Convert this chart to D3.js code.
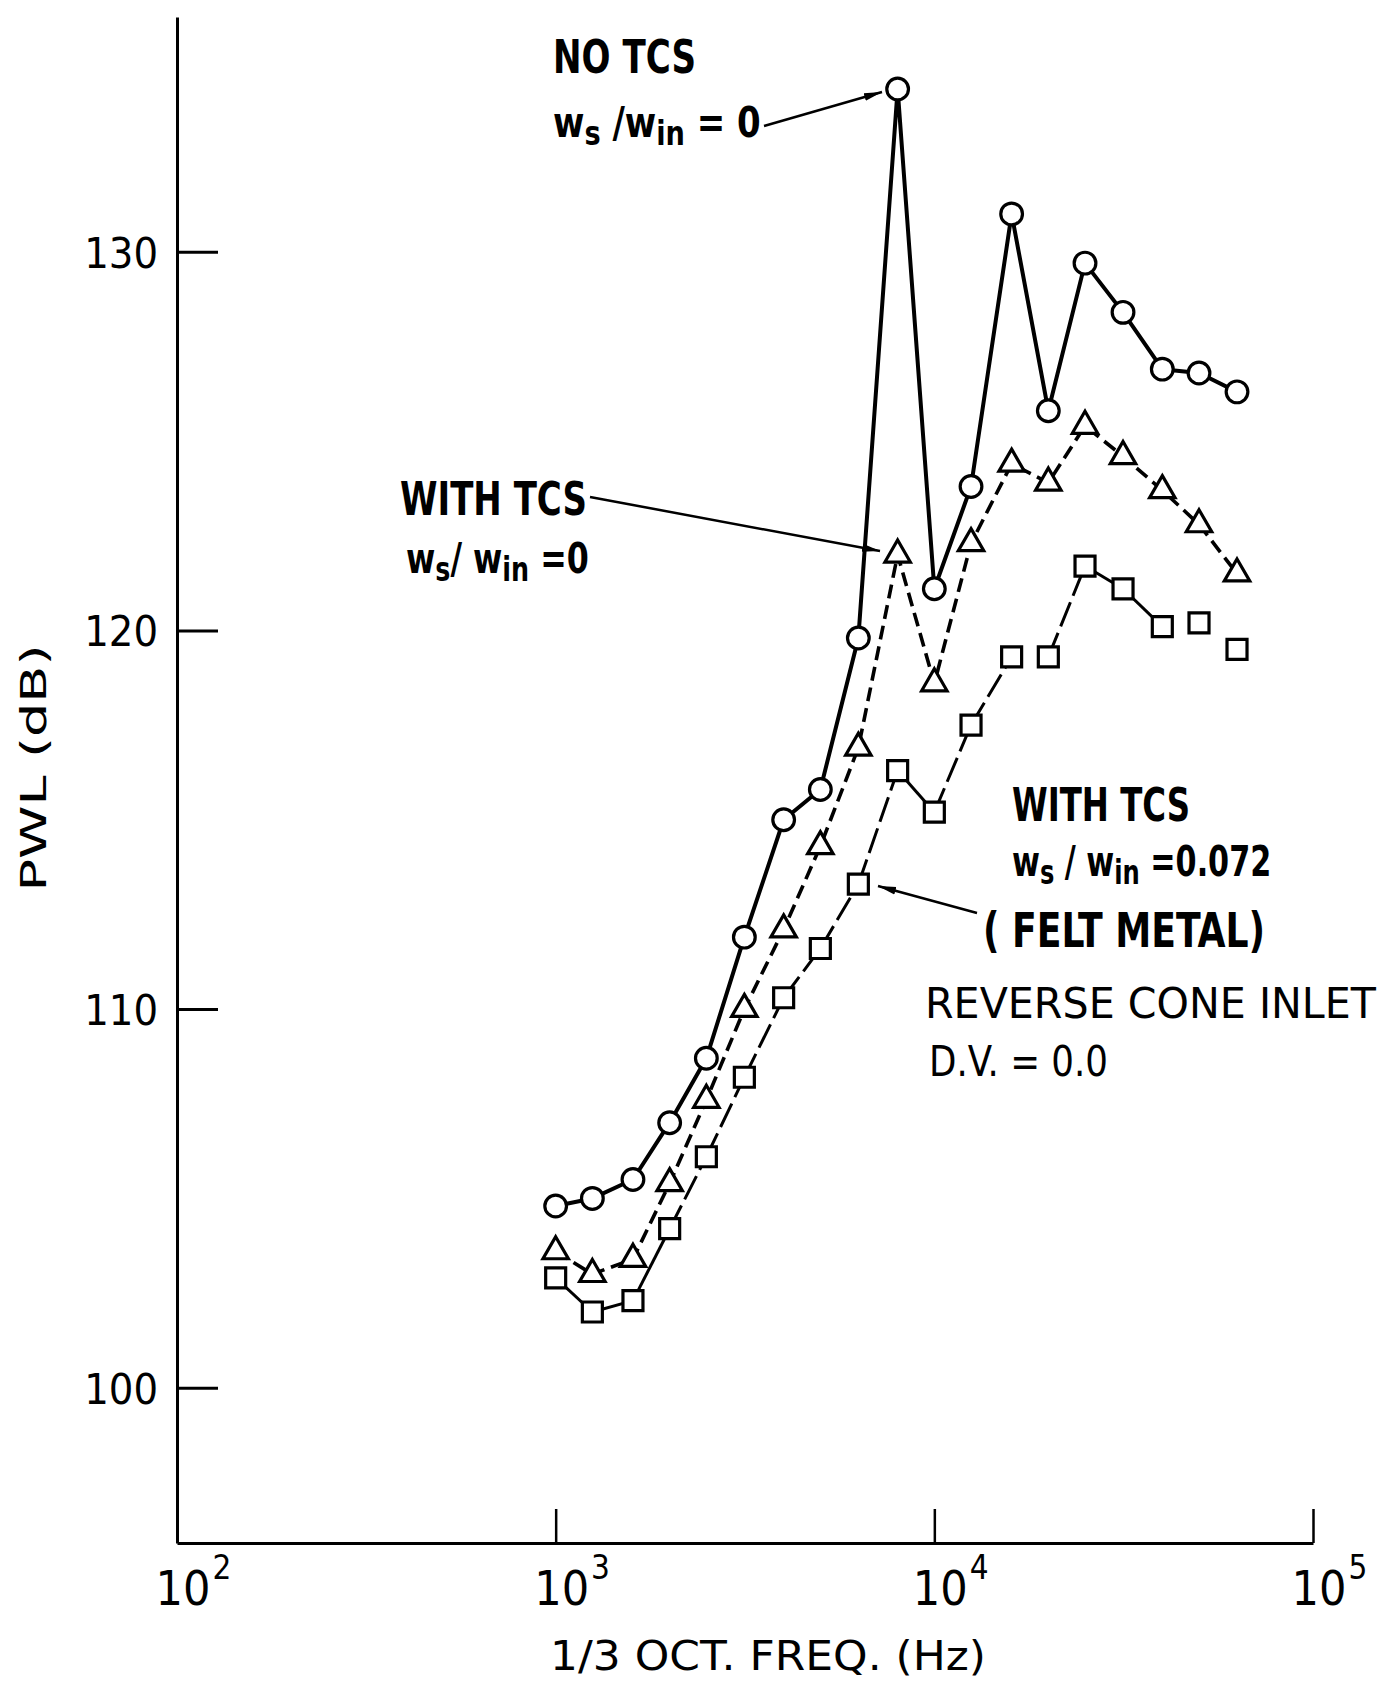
<!DOCTYPE html>
<html>
<head>
<meta charset="utf-8">
<title>PWL vs 1/3 oct. freq.</title>
<script src="https://cdn.jsdelivr.net/npm/d3@7"></script>
<style>
  body { margin: 0; background: #fff; }
  svg text { fill: #000; }
  .lab { font-family: "Liberation Sans Narrow", "DejaVu Sans Condensed", "DejaVu Sans", sans-serif; font-stretch: condensed; }
  .thin { font-family: "DejaVu Sans", "Liberation Sans", sans-serif; }
</style>
</head>
<body>
<script>
// 1/3 octave band centre frequencies (Hz)
var freqs = [1000, 1250, 1600, 2000, 2500, 3150, 4000, 5000, 6300, 8000,
             10000, 12500, 16000, 20000, 25000, 31500, 40000, 50000, 63000];

// PWL (dB)
var noTcs     = [104.8, 105.0, 105.5, 107.0, 108.7, 111.9, 115.0, 115.8, 119.8, 134.3,
                 121.1, 123.8, 131.0, 125.8, 129.7, 128.4, 126.9, 126.8, 126.3];
var withTcs   = [103.6, 103.0, 103.4, 105.4, 107.6, 110.0, 112.1, 114.3, 116.9, 122.0,
                 118.6, 122.3, 124.4, 123.9, 125.4, 124.6, 123.7, 122.8, 121.5];
var feltMetal = [102.9, 102.0, 102.3, 104.2, 106.1, 108.2, 110.3, 111.6, 113.3, 116.3,
                 115.2, 117.5, 119.3, 119.3, 121.7, 121.1, 120.1, 120.2, 119.5];

// how each segment of the felt metal curve is drawn (i -> i+1)
var feltSegs = ["solid", "solid", "solid", "dash", "dash", "dash", "dash", "dash", "dash",
                "solid", "dash", "dash", "none", "dash", "solid", "solid", "none", "none"];

var yTicks = [100, 110, 120, 130];
var xTicks = [1e2, 1e3, 1e4, 1e5];
var xTickExp = ["2", "3", "4", "5"];

var W = 1385, H = 1684;

var svg = d3.select("body").append("svg")
    .attr("width", W)
    .attr("height", H);

var defs = svg.append("defs");
defs.append("marker")
    .attr("id", "arrow")
    .attr("markerUnits", "userSpaceOnUse")
    .attr("markerWidth", 20).attr("markerHeight", 10)
    .attr("refX", 18).attr("refY", 5)
    .attr("orient", "auto")
  .append("path")
    .attr("d", "M0,1 L18,5 L0,9 Z")
    .attr("fill", "#000");

var x = d3.scaleLog().domain([1e2, 1e5]).range([177, 1313]);
var y = d3.scaleLinear().domain([95.9, 136.2]).range([1543, 17]);

// y axis, ticks pointing inwards
var yAxis = d3.axisLeft(y)
    .tickValues(yTicks)
    .tickSizeInner(-41)
    .tickSizeOuter(0)
    .tickPadding(19);

var gy = svg.append("g")
    .attr("transform", "translate(177,0)")
    .call(yAxis);
gy.select(".domain").attr("stroke-width", 3);
gy.selectAll(".tick line").attr("stroke-width", 3);
gy.selectAll(".tick text")
    .attr("class", "lab")
    .attr("font-size", 43)
    .attr("dy", "0.36em");

// x axis, log decades
var xAxis = d3.axisBottom(x)
    .tickValues(xTicks)
    .tickSizeInner(-34)
    .tickSizeOuter(0)
    .tickFormat(function () { return "10"; });

var gx = svg.append("g")
    .attr("transform", "translate(0,1543)")
    .call(xAxis);
gx.select(".domain").attr("stroke-width", 3);
gx.selectAll(".tick line").attr("stroke-width", 2.5);
gx.selectAll(".tick").filter(function (d) { return d === 1e2; }).select("line").remove();
gx.selectAll(".tick text")
    .attr("class", "lab")
    .attr("font-size", 48)
    .attr("text-anchor", "start")
    .attr("x", -22)
    .attr("y", 62)
    .attr("dy", 0)
  .append("tspan")
    .attr("font-size", 33)
    .attr("dx", 2)
    .attr("dy", -26)
    .text(function (d) { return xTickExp[xTicks.indexOf(d)]; });

svg.selectAll(".tick text").attr("fill", "#000");

// axis titles
svg.append("text")
    .attr("class", "thin")
    .attr("font-size", 36)
    .attr("text-anchor", "middle")
    .attr("transform", "translate(46,768) rotate(-90)")
    .attr("textLength", 247)
    .attr("lengthAdjust", "spacingAndGlyphs")
    .text("PWL (dB)");

svg.append("text")
    .attr("class", "thin")
    .attr("font-size", 41)
    .attr("x", 550)
    .attr("y", 1670)
    .attr("textLength", 436)
    .attr("lengthAdjust", "spacingAndGlyphs")
    .text("1/3 OCT. FREQ. (Hz)");

// series
function pts(vals) {
    return freqs.map(function (f, i) { return { f: f, v: vals[i] }; });
}

var line = d3.line()
    .x(function (d) { return x(d.f); })
    .y(function (d) { return y(d.v); });

var lines = svg.append("g").attr("fill", "none").attr("stroke", "#000");

lines.append("path")
    .datum(pts(noTcs))
    .attr("stroke-width", 4)
    .attr("stroke-linejoin", "round")
    .attr("d", line);

lines.append("path")
    .datum(pts(withTcs))
    .attr("stroke-width", 3.6)
    .attr("stroke-dasharray", "14,7")
    .attr("d", line);

var fm = pts(feltMetal);
lines.selectAll("path.felt")
    .data(feltSegs.map(function (s, i) { return { s: s, seg: [fm[i], fm[i + 1]] }; })
        .filter(function (d) { return d.s !== "none"; }))
    .enter().append("path")
    .attr("class", "felt")
    .attr("stroke-width", 3)
    .attr("stroke-dasharray", function (d) { return d.s === "dash" ? "26,7" : null; })
    .attr("d", function (d) { return line(d.seg); });

// markers
function drawMarkers(vals, type, size) {
    svg.append("g").selectAll("path")
        .data(pts(vals))
        .enter().append("path")
        .attr("transform", function (d) { return "translate(" + x(d.f) + "," + y(d.v) + ")"; })
        .attr("d", d3.symbol().type(type).size(size))
        .attr("fill", "#fff")
        .attr("stroke", "#000")
        .attr("stroke-width", 3.2);
}
drawMarkers(noTcs, d3.symbolCircle, 370);
drawMarkers(withTcs, d3.symbolTriangle, 280);
drawMarkers(feltMetal, d3.symbolSquare, 400);

// annotations
function label(xp, yp, size, len, parts, cls) {
    var t = svg.append("text")
        .attr("class", cls || "lab")
        .attr("font-size", size)
        .attr("font-weight", cls ? null : "bold")
        .attr("x", xp)
        .attr("y", yp);
    if (len) t.attr("textLength", len).attr("lengthAdjust", "spacingAndGlyphs");
    parts.forEach(function (p) {
        var ts = t.append("tspan").text(p[0]);
        if (p[1] === "sub") ts.attr("font-size", size * 0.8).attr("dy", 8);
        if (p[1] === "up") ts.attr("dy", -8);
    });
    return t;
}

// ratio labels are squeezed sideways like the stencil lettering
function ratio(xp, yp, sx, parts) {
    var size = 42;
    var t = svg.append("text")
        .attr("class", "lab")
        .attr("font-size", size)
        .attr("font-weight", "bold")
        .attr("transform", "translate(" + xp + "," + yp + ") scale(" + sx + ",1)");
    parts.forEach(function (p) {
        var ts = t.append("tspan").text(p[0]);
        if (p[1] === "sub") ts.attr("font-size", size * 0.8).attr("dy", 8);
        if (p[1] === "up") ts.attr("dy", -8);
    });
}

function arrow(x1, y1, x2, y2) {
    svg.append("line")
        .attr("x1", x1).attr("y1", y1)
        .attr("x2", x2).attr("y2", y2)
        .attr("stroke", "#000")
        .attr("stroke-width", 2.5)
        .attr("marker-end", "url(#arrow)");
}

label(553, 73, 47, 143, [["NO TCS"]]);
ratio(553, 137, 0.9, [["w"], ["s", "sub"], [" /w", "up"], ["in", "sub"], [" = 0", "up"]]);
arrow(764, 126, 882, 92);

label(400, 515, 47, 187, [["WITH TCS"]]);
ratio(406, 573, 0.84, [["w"], ["s", "sub"], ["/ w", "up"], ["in", "sub"], [" =0", "up"]]);
arrow(590, 497, 880, 551);

label(1012, 821, 47, 178, [["WITH TCS"]]);
ratio(1012, 876, 0.8, [["w"], ["s", "sub"], [" / w", "up"], ["in", "sub"], [" =0.072", "up"]]);
label(983, 947, 48, 282, [["( FELT METAL)"]]);
arrow(977, 913, 878, 886);

label(925, 1018, 42, 451, [["REVERSE CONE INLET"]], "thin");
label(929, 1076, 42, 179, [["D.V. = 0.0"]], "thin");
</script>
</body>
</html>
